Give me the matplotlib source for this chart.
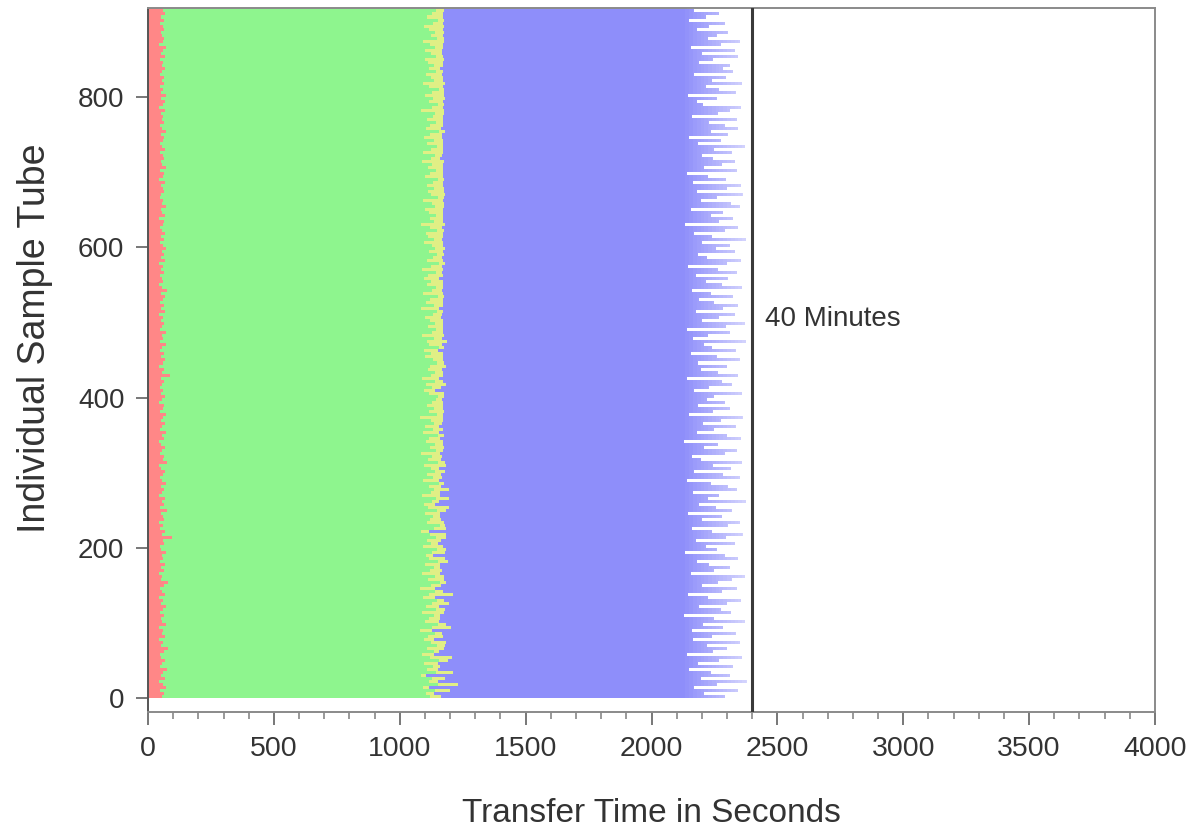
import numpy as np
import matplotlib
matplotlib.use("Agg")
import matplotlib.pyplot as plt
from matplotlib.ticker import MultipleLocator
from matplotlib.colors import to_rgb

plt.rcParams['font.family'] = ['Liberation Sans', 'DejaVu Sans']

# Each entry represents a group of 4 consecutive sample tubes (bottom -> top)
red_end = [
    55, 62, 48, 71, 58, 44, 66, 52, 60, 75,
    49, 57, 68, 53, 46, 63, 80, 51, 59, 45,
    67, 54, 61, 42, 70, 56, 50, 64, 47, 58,
    73, 52, 60, 45, 66, 55, 49, 62, 78, 53,
    57, 43, 65, 51, 69, 48, 61, 56, 72, 50,
    46, 63, 58, 95, 54, 67, 49, 60, 44, 65,
    59, 52, 74, 47, 62, 55, 68, 43, 57, 64,
    51, 70, 56, 48, 61, 66, 53, 45, 76, 58,
    63, 49, 57, 69, 52, 44, 62, 55, 71, 47,
    54, 66, 50, 60, 73, 48, 58, 65, 42, 56,
    68, 53, 61, 47, 57, 64, 51, 88, 55, 62,
    45, 59, 67, 52, 63, 49, 56, 70, 46, 61,
    57, 72, 48, 55, 65, 51, 60, 44, 68, 53,
    62, 47, 58, 66, 50, 74, 55, 43, 61, 57,
    49, 64, 53, 59, 45, 67, 52, 62, 56, 70,
    58, 46, 63, 51, 69, 54, 48, 60, 65, 44,
    66, 55, 50, 72, 57, 61, 47, 53, 64, 59,
    52, 68, 45, 58, 63, 49, 71, 56, 50, 62,
    60, 48, 67, 54, 46, 59, 65, 52, 73, 57,
    47, 63, 56, 61, 51, 68, 44, 58, 66, 53,
    71, 50, 59, 46, 64, 55, 62, 49, 57, 68,
    54, 61, 48, 66, 52, 58, 70, 45, 60, 63,
    56, 50, 65, 59, 47, 62, 53, 69, 58, 51,
]

green_end = [
    1120, 1105, 1138, 1092, 1150, 1115, 1128, 1084, 1142, 1110,
    1131, 1098, 1156, 1119, 1087, 1135, 1108, 1146, 1124, 1095,
    1112, 1140, 1079, 1127, 1153, 1101, 1118, 1136, 1090, 1145,
    1106, 1129, 1148, 1094, 1117, 1139, 1082, 1125, 1160, 1113,
    1141, 1088, 1122, 1134, 1099, 1151, 1116, 1103, 1130, 1147,
    1093, 1126, 1110, 1144, 1121, 1085, 1137, 1158, 1107, 1119,
    1132, 1102, 1149, 1114, 1096, 1128, 1143, 1089, 1123, 1136,
    1117, 1155, 1091, 1133, 1108, 1140, 1125, 1097, 1152, 1111,
    1128, 1086, 1145, 1120, 1139, 1104, 1116, 1150, 1093, 1131,
    1100, 1137, 1123, 1081, 1146, 1118, 1134, 1109, 1127, 1143,
    1152, 1115, 1097, 1130, 1106, 1141, 1087, 1124, 1138, 1112,
    1121, 1148, 1133, 1102, 1126, 1095, 1154, 1117, 1108, 1135,
    1090, 1127, 1144, 1113, 1139, 1121, 1100, 1131, 1147, 1083,
    1136, 1105, 1119, 1151, 1094, 1129, 1142, 1110, 1125, 1098,
    1114, 1142, 1088, 1124, 1157, 1107, 1132, 1146, 1116, 1139,
    1129, 1096, 1137, 1112, 1103, 1149, 1120, 1085, 1134, 1122,
    1145, 1118, 1101, 1140, 1128, 1091, 1153, 1124, 1111, 1136,
    1107, 1133, 1150, 1099, 1119, 1142, 1114, 1130, 1088, 1126,
    1138, 1092, 1125, 1147, 1110, 1135, 1097, 1121, 1156, 1104,
    1119, 1144, 1108, 1131, 1141, 1086, 1127, 1150, 1115, 1132,
    1101, 1129, 1154, 1116, 1093, 1137, 1123, 1106, 1143, 1118,
    1134, 1111, 1099, 1145, 1126, 1102, 1139, 1120, 1091, 1148,
    1123, 1140, 1115, 1096, 1132, 1150, 1109, 1128, 1144, 1152,
]

yellow_dur = [
    45, 30, 62, 25, 80, 38, 52, 20, 70, 41,
    28, 55, 35, 90, 47, 22, 66, 33, 58, 40,
    60, 26, 48, 75, 32, 54, 43, 24, 85, 36,
    50, 68, 29, 44, 95, 31, 57, 39, 23, 63,
    34, 72, 46, 27, 59, 42, 65, 30, 51, 37,
    78, 25, 55, 40, 62, 33, 48, 21, 69, 45,
    29, 58, 36, 83, 44, 26, 53, 71, 38, 60,
    47, 22, 64, 35, 56, 41, 30, 88, 27, 52,
    39, 73, 28, 57, 33, 66, 45, 24, 61, 42,
    55, 31, 49, 92, 26, 58, 37, 64, 43, 25,
    24, 60, 41, 35, 77, 30, 68, 46, 32, 54,
    63, 28, 39, 70, 45, 57, 23, 50, 81, 34,
    86, 43, 27, 58, 32, 49, 65, 38, 25, 72,
    35, 67, 52, 24, 79, 40, 28, 61, 47, 56,
    58, 26, 84, 44, 22, 63, 36, 29, 54, 41,
    42, 76, 31, 59, 68, 25, 47, 93, 38, 50,
    27, 53, 70, 34, 46, 82, 24, 57, 63, 39,
    66, 38, 25, 74, 51, 30, 59, 43, 87, 35,
    31, 80, 48, 26, 62, 37, 71, 45, 22, 58,
    52, 29, 65, 40, 33, 90, 44, 25, 56, 47,
    74, 45, 23, 55, 86, 34, 49, 62, 30, 41,
    36, 62, 77, 28, 43, 67, 32, 51, 84, 26,
    48, 35, 57, 81, 39, 27, 63, 44, 30, 55,
]

blue_end = [
    2290, 2210, 2345, 2170, 2260, 2380, 2195, 2310, 2235, 2150,
    2325, 2185, 2270, 2360, 2140, 2245, 2300, 2220, 2350, 2165,
    2240, 2335, 2160, 2285, 2205, 2370, 2250, 2130, 2315, 2275,
    2190, 2300, 2355, 2225, 2145, 2280, 2340, 2200, 2265, 2320,
    2370, 2155, 2250, 2310, 2230, 2180, 2345, 2290, 2135, 2260,
    2215, 2330, 2175, 2295, 2365, 2240, 2160, 2305, 2350, 2200,
    2280, 2145, 2320, 2255, 2190, 2375, 2225, 2270, 2165, 2340,
    2305, 2235, 2140, 2350, 2285, 2170, 2315, 2245, 2360, 2195,
    2160, 2290, 2340, 2210, 2265, 2130, 2355, 2300, 2180, 2250,
    2335, 2205, 2275, 2365, 2150, 2245, 2310, 2185, 2290, 2220,
    2250, 2360, 2170, 2230, 2320, 2280, 2140, 2345, 2265, 2195,
    2300, 2185, 2350, 2260, 2155, 2335, 2240, 2210, 2375, 2165,
    2225, 2310, 2140, 2295, 2370, 2200, 2270, 2330, 2175, 2285,
    2345, 2250, 2190, 2325, 2235, 2160, 2360, 2280, 2215, 2305,
    2175, 2340, 2265, 2145, 2300, 2355, 2220, 2185, 2330, 2255,
    2310, 2200, 2375, 2240, 2170, 2290, 2345, 2135, 2270, 2325,
    2235, 2285, 2155, 2350, 2315, 2195, 2260, 2365, 2180, 2300,
    2355, 2165, 2295, 2225, 2140, 2340, 2210, 2280, 2330, 2245,
    2200, 2320, 2250, 2370, 2185, 2275, 2150, 2305, 2235, 2345,
    2290, 2230, 2340, 2160, 2265, 2310, 2355, 2205, 2180, 2260,
    2145, 2335, 2270, 2215, 2360, 2240, 2295, 2170, 2325, 2285,
    2310, 2190, 2245, 2345, 2200, 2330, 2155, 2275, 2350, 2225,
    2260, 2305, 2180, 2230, 2290, 2150, 2215, 2270, 2170, 2140,
]

limit_seconds = 2400
limit_label = "40 Minutes"
group_size = 4

red_end = np.array(red_end, float)
green_end = np.array(green_end, float)
yellow_end = green_end + np.array(yellow_dur, float)
blue_end = np.array(blue_end, float)
n = len(red_end)
ypos = np.arange(n) * group_size + group_size / 2.0

fig = plt.figure(figsize=(11.89, 8.31), dpi=100)
ax = fig.add_axes([0.1245, 0.1432, 0.8469, 0.8472])

h = group_size
c_red, c_green, c_yel, c_blue = "#ff8787", "#8ef58e", "#e0ef85", "#8e8efa"
c_blue_tail = "#dadafd"
kw = dict(height=h, linewidth=0, antialiased=True)
ax.barh(ypos, red_end, left=0, color=c_red, **kw)
ax.barh(ypos, green_end - red_end, left=red_end, color=c_green, **kw)
ax.barh(ypos, yellow_end - green_end, left=green_end, color=c_yel, **kw)

# blue segment, drawn with a fading tail (mimics the blended sub-pixel rows)
fade_start, fade_stop, fade_step = 2120, 2390, 15
core_end = np.minimum(blue_end, fade_start)
ax.barh(ypos, core_end - yellow_end, left=yellow_end, color=c_blue, **kw)
cb, ct = np.array(to_rgb(c_blue)), np.array(to_rgb(c_blue_tail))
for x0 in np.arange(fade_start, fade_stop, fade_step):
    x1 = x0 + fade_step
    t = (x0 - fade_start) / (fade_stop - fade_start)
    col = cb * (1 - t) + ct * t
    lo = np.clip(blue_end, x0, x1)
    w = lo - x0
    m = w > 0
    if m.any():
        ax.barh(ypos[m], w[m], left=x0, color=col, **kw)

ax.axvline(limit_seconds, color="#3a3a3a", lw=2.2, zorder=5)
ax.text(limit_seconds + 52, 505, limit_label, fontsize=20, color="#333333", va="center", ha="left")

ax.set_xlim(0, 4000)
ax.set_ylim(-18, 918)
ax.xaxis.set_major_locator(MultipleLocator(500))
ax.xaxis.set_minor_locator(MultipleLocator(100))
ax.yaxis.set_major_locator(MultipleLocator(200))

for s in ax.spines.values():
    s.set_color("#8a8a8a")
    s.set_linewidth(1.4)
ax.spines['left'].set_color("#555555")

ax.tick_params(axis='both', which='major', direction='out', length=9, width=1.4,
               color="#777777", labelcolor="#333333")
ax.tick_params(axis='x', which='major', labelsize=20.5, pad=8)
ax.tick_params(axis='y', which='major', labelsize=20, pad=8)
ax.tick_params(axis='x', which='minor', direction='out', length=5, width=1.2, color="#888888")

ax.set_xlabel("Transfer Time in Seconds", fontsize=24, color="#333333", labelpad=26)
ax.set_ylabel("Individual Sample Tube", fontsize=27, color="#333333")
ax.yaxis.set_label_coords(-0.094, 0.531)

fig.savefig("out.png", dpi=100)
